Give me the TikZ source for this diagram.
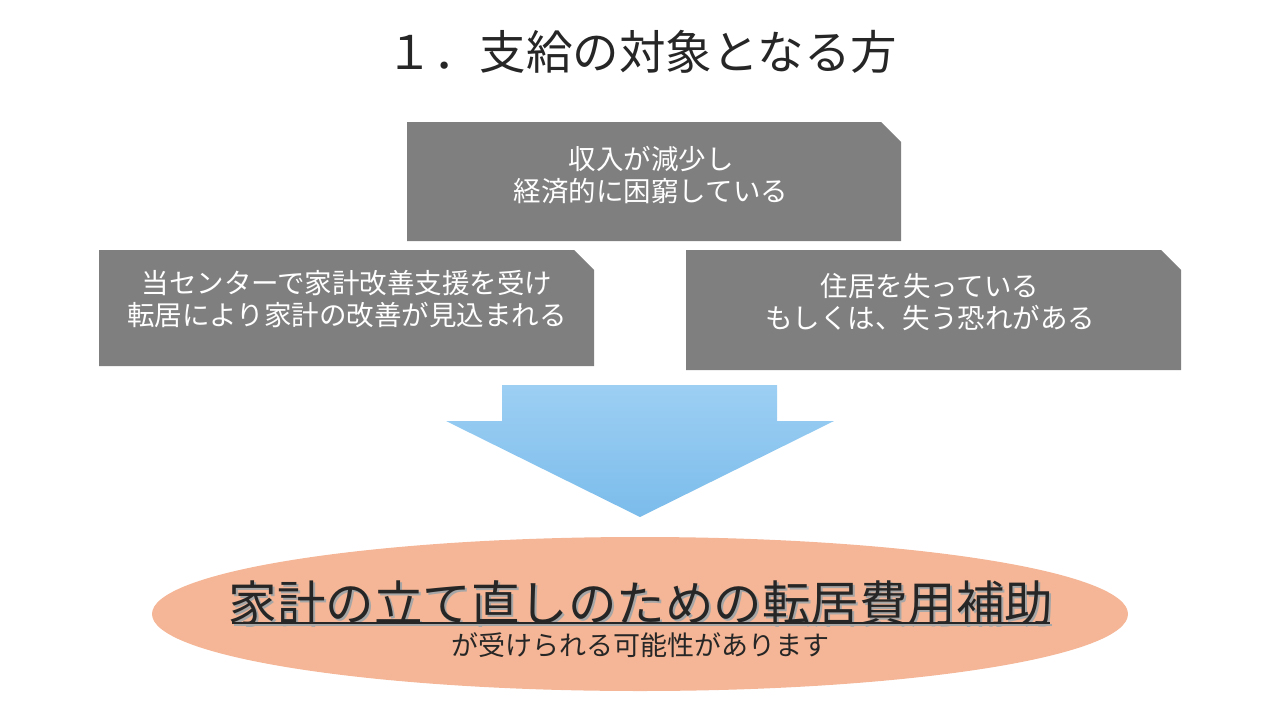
\documentclass[tikz,border=0pt]{standalone}
\usepackage{fontspec}
\setmainfont{Noto Sans CJK JP}
\definecolor{boxgray}{HTML}{7F7F7F}
\definecolor{textdark}{HTML}{262626}
\definecolor{peach}{HTML}{F4B696}
\definecolor{arrtop}{HTML}{9DCFF3}
\definecolor{arrbot}{HTML}{7BBCEB}
\tikzset{
  boxtext/.style={text=white, align=center, font=\fontsize{27.5}{32}\selectfont, inner sep=0pt},
  snipbox/.style={fill=boxgray},
}
\begin{document}
\begin{tikzpicture}[x=1pt,y=-1pt]
\useasboundingbox (0,0) rectangle (1280,720);
% title
\node[text=textdark, font=\fontsize{46.5}{50}\selectfont, inner sep=0pt] (title) at (642,52) {１．支給の対象となる方};
% top box
\fill[snipbox] (407,122) -- (881,122) -- (901,142) -- (901,241) -- (407,241) -- cycle;
\node[boxtext] (top) at (651,175) {収入が減少し\\経済的に困窮している};
% left box
\fill[snipbox] (99,250) -- (574,250) -- (594,270) -- (594,366) -- (99,366) -- cycle;
\node[boxtext] (left) at (347,299) {当センターで家計改善支援を受け\\転居により家計の改善が見込まれる};
% right box
\fill[snipbox] (686,250) -- (1161,250) -- (1181,270) -- (1181,370) -- (686,370) -- cycle;
\node[boxtext] (right) at (930,302) {住居を失っている\\もしくは、失う恐れがある};
% arrow
\shade[top color=arrtop, bottom color=arrbot] (502,385) -- (777,385) -- (777,421) -- (834,421) -- (640,517) -- (446,421) -- (502,421) -- cycle;
% ellipse
\fill[peach] (640,614) ellipse [x radius=488, y radius=77];
% main text with shadow
\node[text=gray!70, font=\fontsize{48.5}{52}\selectfont, inner sep=0pt] at (643,605) {家計の立て直しのための転居費用補助};
\node[text=textdark, font=\fontsize{48.5}{52}\selectfont, inner sep=0pt] (main) at (641,603) {家計の立て直しのための転居費用補助};
\draw[gray!70, line width=2pt] (234,625) -- (1052,625);
\draw[textdark, line width=2pt] (232,623) -- (1050,623);
\node[text=textdark, font=\fontsize{27}{30}\selectfont, inner sep=0pt] (sub) at (640,645) {が受けられる可能性があります};
\end{tikzpicture}
\end{document}
